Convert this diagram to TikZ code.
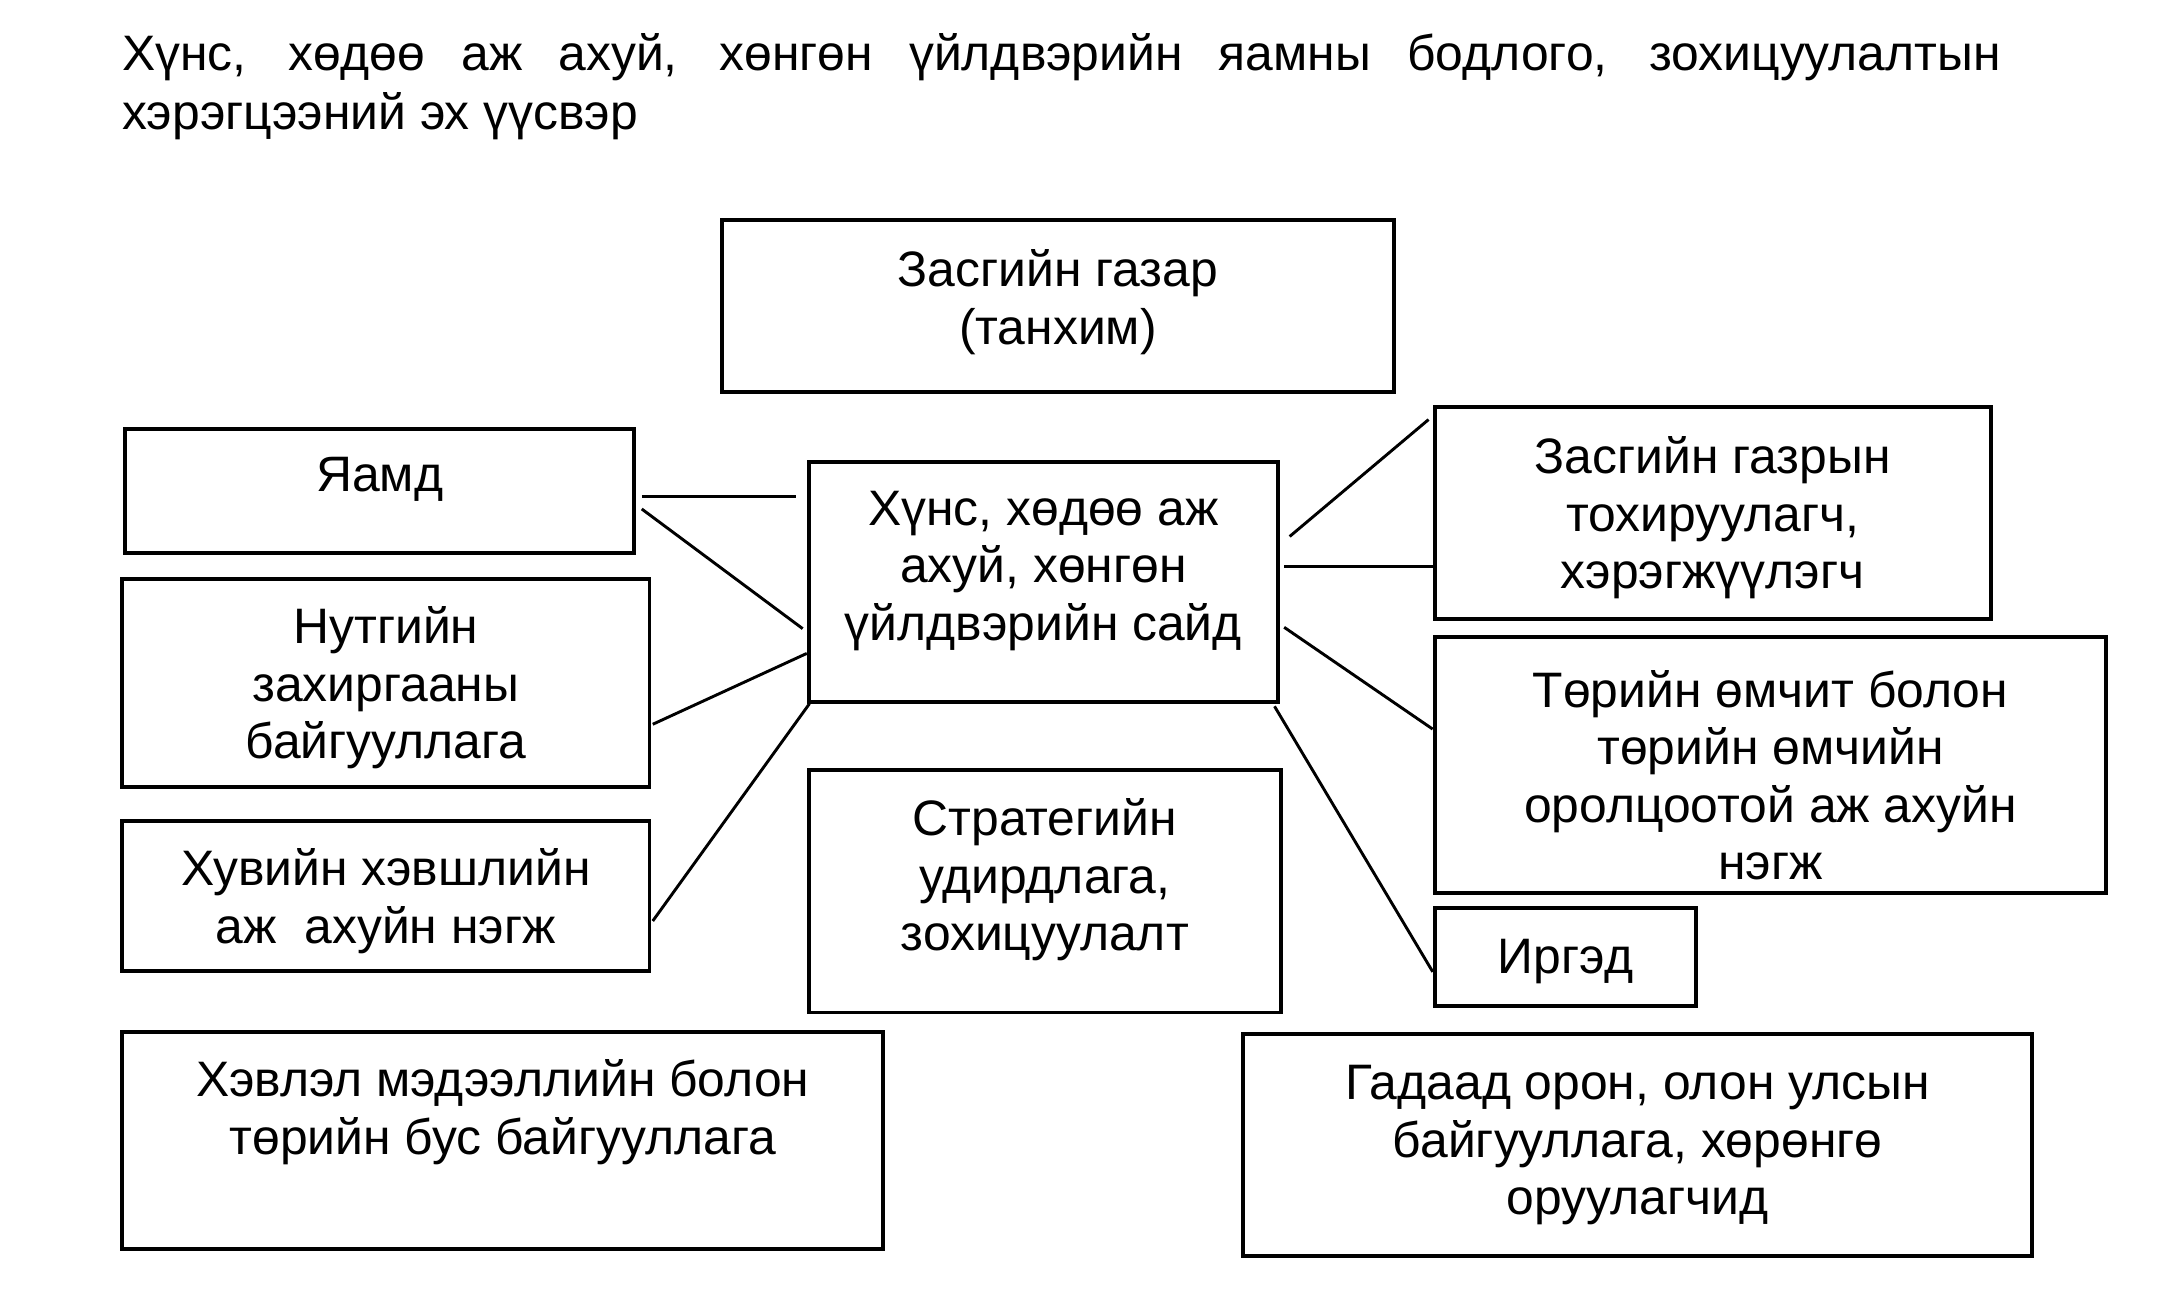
\documentclass[tikz,border=0pt]{standalone}
\usepackage{fontspec}
\setmainfont{Liberation Sans}
\tikzset{
    box/.style={draw,line width=0.8pt,inner sep=0pt},
    txt/.style={align=center,inner sep=0pt,yshift=-0.035cm,font=\fontsize{10.3}{11.9}\selectfont},
    con/.style={line width=0.6pt},
}
\begin{document}
\begin{tikzpicture}[x=0.01cm,y=-0.01cm]
        \useasboundingbox(0,0)rectangle(1568,937);
        \node[inner sep=0pt,anchor=north west,text width=13.65cm,align=justify,font=\fontsize{10.3}{12.1}\selectfont](title)at(88,24){Хүнс, хөдөө аж ахуй, хөнгөн үйлдвэрийн яамны бодлого, зохицуулалтын\linebreak хэрэгцээний эх үүсвэр};
        % boxes
        \node[box,minimum width=4.88cm,minimum height=1.25cm](govt)at(769,222.5){};
        \node[txt](govt-t)at([yshift=0.065cm]govt.center){Засгийн газар\\(танхим)};
        \node[box,minimum width=3.70cm,minimum height=0.90cm](yamd)at(276,357){};
        \node[txt](yamd-t)at([yshift=0.12cm]yamd.center){Яамд};
        \node[box,minimum width=3.41cm,minimum height=1.74cm](sayd)at(758.5,423){};
        \node[txt](sayd-t)at([yshift=0.115cm]sayd.center){Хүнс, хөдөө аж\\ахуй, хөнгөн\\үйлдвэрийн сайд};
        \node[box,minimum width=3.83cm,minimum height=1.51cm](nutag)at(280.5,496.5){};
        \node[txt](nutag-t)at(nutag.center){Нутгийн\\захиргааны\\байгууллага};
        \node[box,minimum width=3.83cm,minimum height=1.09cm](huvi)at(280.5,651.5){};
        \node[txt](huvi-t)at(huvi.center){Хувийн хэвшлийн\\аж\ \ ахуйн нэгж};
        \node[box,minimum width=3.43cm,minimum height=1.76cm](strat)at(759.5,648){};
        \node[txt](strat-t)at([yshift=0.12cm]strat.center){Стратегийн\\удирдлага,\\зохицуулалт};
        \node[box,minimum width=5.53cm,minimum height=1.58cm](hevlel)at(365.5,829){};
        \node[txt](hevlel-t)at([yshift=0.24cm]hevlel.center){Хэвлэл мэдээллийн болон\\төрийн бус байгууллага};
        \node[box,minimum width=4.04cm,minimum height=1.54cm](zgt)at(1245,373){};
        \node[txt](zgt-t)at(zgt.center){Засгийн газрын\\тохируулагч,\\хэрэгжүүлэгч};
        \node[box,minimum width=4.88cm,minimum height=1.86cm](tur)at(1287,556){};
        \node[txt](tur-t)at([yshift=-0.04cm]tur.center){Төрийн өмчит болон\\төрийн өмчийн\\оролцоотой аж ахуйн\\нэгж};
        \node[box,minimum width=1.90cm,minimum height=0.71cm](irged)at(1138,695.5){};
        \node[txt](irged-t)at(irged.center){Иргэд};
        \node[box,minimum width=5.73cm,minimum height=1.61cm](gadaad)at(1190.5,832.5){};
        \node[txt](gadaad-t)at([yshift=0.035cm]gadaad.center){Гадаад орон, олон улсын\\байгууллага, хөрөнгө\\оруулагчид};
        % connectors
        \draw[con]([shift={(4,4)}]yamd.east)--([shift={(-8,-62)}]sayd.west);
        \draw[con]([shift={(4,13)}]yamd.east)--([shift={(-3,34)}]sayd.west);
        \draw[con]([shift={(1,30)}]nutag.east)--([shift={(0,52)}]sayd.west);
        \draw[con]([shift={(1,18)}]huvi.east)--([shift={(2,0)}]sayd.south west);
        \draw[con]([shift={(7,-33)}]sayd.east)--([shift={(-3,-68)}]zgt.west);
        \draw[con]([shift={(3,-11)}]sayd.east)--([shift={(0,39)}]zgt.west);
        \draw[con]([shift={(3,33)}]sayd.east)--([shift={(0,-26)}]tur.west);
        \draw[con]([shift={(-4,2)}]sayd.south east)--([shift={(0,11)}]irged.west);
    \end{tikzpicture}
\end{document}
